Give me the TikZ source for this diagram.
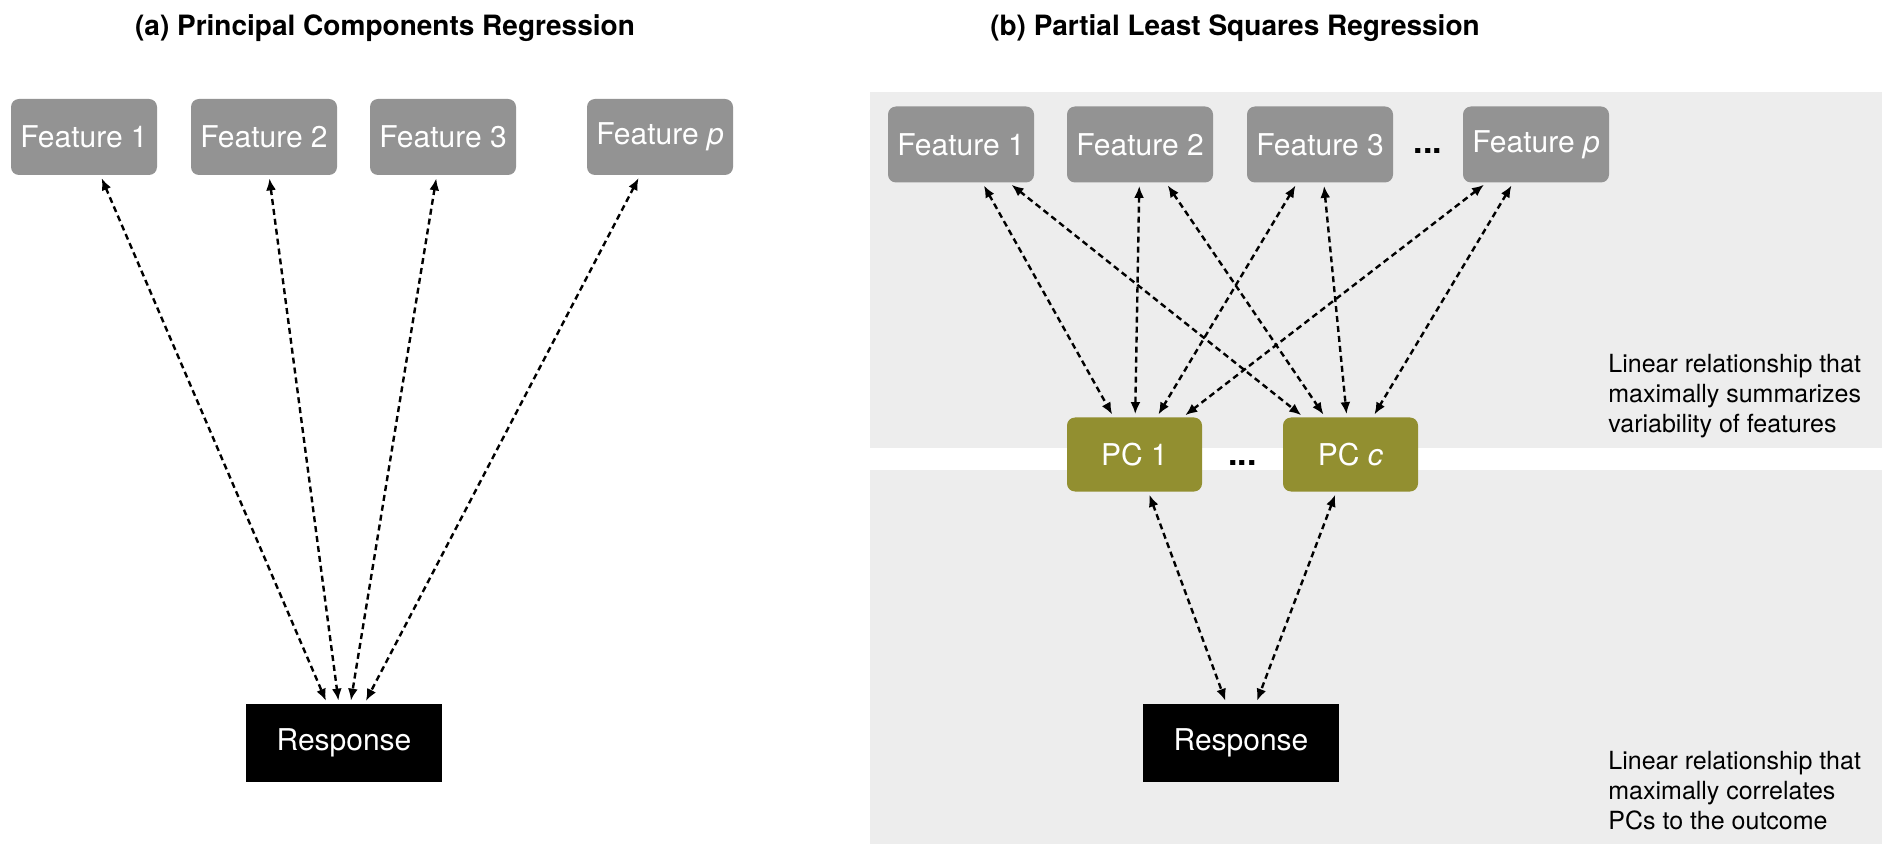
\documentclass[tikz,border=0pt]{standalone}
\usepackage{fontspec}
\setmainfont{TeX Gyre Heros}
\usetikzlibrary{arrows.meta}
\usetikzlibrary{calc}
\definecolor{featgray}{HTML}{939393}
\definecolor{pcolive}{HTML}{928F30}
\definecolor{bandgray}{HTML}{EDEDED}
\tikzset{
	featstyle/.style={rectangle, rounded corners=4pt, fill=featgray, text=white, minimum width=73pt, minimum height=38pt, inner sep=0pt, font=\fontsize{15}{17}\selectfont},
	pcstyle/.style={featstyle, fill=pcolive, minimum width=67.5pt, minimum height=37pt},
	respstyle/.style={rectangle, fill=black, text=white, minimum width=98pt, minimum height=39pt, inner sep=0pt, font=\fontsize{15}{17}\selectfont},
	titlestyle/.style={inner sep=0pt, font=\fontsize{14}{16}\selectfont\bfseries},
	notestyle/.style={anchor=north west, align=left, inner sep=0pt, font=\fontsize{12.5}{15}\selectfont},
	dotstyle/.style={anchor=base, inner sep=0pt, font=\fontsize{17}{19}\selectfont\bfseries},
	linkstyle/.style={dash pattern=on 3pt off 2pt, line width=1.2pt, {Latex[length=6pt,width=5pt]}-{Latex[length=6pt,width=5pt]}, shorten >=1.5pt, shorten <=1.5pt}
}

\begin{document}
\begin{tikzpicture}[x=0.5pt, y=-0.5pt]
	\useasboundingbox (0,0) rectangle (1889,844);
	% background bands of (b)
	\fill[bandgray] (870,92) rectangle (1882,448);
	\fill[bandgray] (870,470) rectangle (1882,844);

	% (a) principal components regression
	\node[titlestyle] (titlea) at (385,28) {(a) Principal Components Regression};
	\node[featstyle] (a1) at (84,137) {Feature 1};
	\node[featstyle] (a2) at (264,137) {Feature 2};
	\node[featstyle] (a3) at (443,137) {Feature 3};
	\node[featstyle] (ap) at (660,137) {Feature \textit{p}};
	\node[respstyle] (respa) at (344,743) {Response};
	\draw[linkstyle] (a1)--(respa);
	\draw[linkstyle] (a2)--(respa);
	\draw[linkstyle] (a3)--(respa);
	\draw[linkstyle] (ap)--(respa);

	% (b) partial least squares regression
	\node[titlestyle] (titleb) at (1235,28) {(b) Partial Least Squares Regression};
	\node[featstyle] (b1) at (961,144.5) {Feature 1};
	\node[featstyle] (b2) at (1140,144.5) {Feature 2};
	\node[featstyle] (b3) at (1320,144.5) {Feature 3};
	\node[featstyle] (bp) at (1536,144.5) {Feature \textit{p}};
	\node[dotstyle] (dotsb) at ($(b3.base)!0.5!(bp.base)$) {...};
	\node[pcstyle] (pc1) at (1134.5,454.5) {PC 1};
	\node[pcstyle] (pcc) at (1350.5,454.5) {PC \textit{c}};
	\node[dotstyle] (dotspc) at ($(pc1.base)!0.5!(pcc.base)$) {...};
	\node[respstyle] (respb) at (1241,743) {Response};
	\node[notestyle] (notetop) at (1608,354) {Linear relationship that\\maximally summarizes\\variability of features};
	\node[notestyle] (notebot) at (1608,751) {Linear relationship that\\maximally correlates\\PCs to the outcome};
	\draw[linkstyle] (b1)--(pc1);
	\draw[linkstyle] (b1)--(pcc);
	\draw[linkstyle] (b2)--(pc1);
	\draw[linkstyle] (b2)--(pcc);
	\draw[linkstyle] (b3)--(pc1);
	\draw[linkstyle] (b3)--(pcc);
	\draw[linkstyle] (bp)--(pc1);
	\draw[linkstyle] (bp)--(pcc);
	\draw[linkstyle] (pc1)--(respb);
	\draw[linkstyle] (pcc)--(respb);
\end{tikzpicture}
\end{document}
